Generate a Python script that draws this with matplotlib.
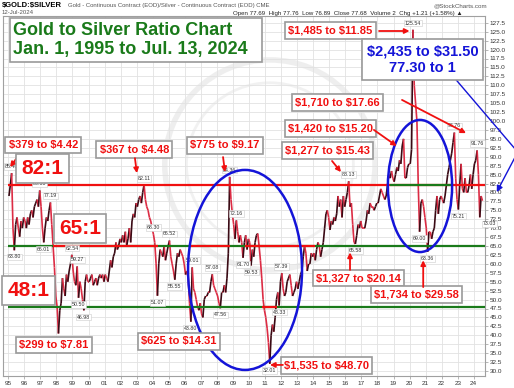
import numpy as np
import matplotlib
matplotlib.use('Agg')
import matplotlib.pyplot as plt
from matplotlib.collections import LineCollection
from matplotlib.patches import Ellipse, Rectangle

plt.rcParams['font.family'] = ['Liberation Sans', 'DejaVu Sans']
plt.rcParams['text.parse_math'] = False

# monthly gold / silver ratio (Jan .. Dec)
r1995 = [79, 82, 85.40, 70, 63.80, 71, 73, 70, 67.6, 72, 70, 73]
r1996 = [72, 70, 73, 71, 74, 75, 73, 76, 77, 78, 76, 80.55]
r1997 = [76, 70, 66.01, 70, 73, 72, 75, 77.19, 71, 65, 59, 51]
r1998 = [48, 40.5, 47, 49, 56, 53, 51, 57, 55, 58, 60, 62.54]
r1999 = [58, 55, 54, 59.27, 50.50, 55, 53, 50, 46.98, 55, 57, 55]
r2000 = [55, 56, 57, 54, 55, 56, 54, 56, 57, 56, 57, 55]
r2001 = [57, 56, 55, 58, 61, 59, 62, 63, 66, 64, 65, 67]
r2002 = [66, 68, 66, 69, 65, 67, 70, 66, 72, 74, 73, 77]
r2003 = [76, 78, 79, 77, 80, 82.11, 78, 76, 75, 73, 72, 70]
r2004 = [68.30, 66, 60, 51.07, 60, 64, 63, 62, 65, 61, 63, 65]
r2005 = [66.52, 62, 60, 58, 55.55, 60, 63, 62, 64, 63, 62, 60]
r2006 = [57, 58, 56, 49, 43.80, 59.01, 53, 52, 50, 48, 47, 49]
r2007 = [46, 45, 50, 51, 51, 52, 52, 55, 57.08, 54, 53, 52]
r2008 = [51, 49, 47.56, 52, 52, 54, 52, 56, 63, 84.36, 78, 74]
r2009 = [71, 67, 72.16, 69, 66, 68, 66, 61.70, 66, 68, 64, 67]
r2010 = [66, 59.53, 64, 62, 66, 68, 68.5, 65, 61, 56, 50, 47]
r2011 = [45, 42, 38, 32.01, 40, 43, 41, 45, 50, 52, 48.33, 55]
r2012 = [57.39, 53, 51, 52, 55, 56, 57, 54, 51, 52, 53, 55]
r2013 = [53, 55, 57, 58, 62, 65, 63, 58, 60, 60, 63, 62]
r2014 = [63, 61, 64, 66, 65, 62, 64, 66, 70, 74, 75, 73]
r2015 = [69.5, 72, 71, 73, 72, 74, 79, 76, 78, 73, 79, 76]
r2016 = [78, 80, 83.13, 76, 77, 71, 66, 65.58, 68, 71, 70, 72]
r2017 = [70, 70, 70, 72, 75, 74, 77, 76, 76, 75, 76, 77]
r2018 = [77, 79, 81, 80, 79, 78, 79, 82, 85, 84, 86, 84]
r2019 = [83, 85, 87, 86, 89, 88, 93, 95, 84, 84, 87, 88]
r2020 = [88, 92, 125.54, 110, 105, 100, 82, 69.00, 77, 78, 76, 73]
r2021 = [70, 63.36, 69, 69, 67, 69, 70, 75, 79, 74, 78, 79]
r2022 = [78, 77, 79, 82, 85, 87, 89, 91, 94, 96.76, 84, 78]
r2023 = [75.21, 82, 88, 81, 80, 84, 80, 80, 82, 85, 81, 85]
r2024 = [88, 89, 91.76, 85, 73.03, 79, 77.68]

yearly = [r1995, r1996, r1997, r1998, r1999, r2000, r2001, r2002, r2003, r2004,
          r2005, r2006, r2007, r2008, r2009, r2010, r2011, r2012, r2013, r2014,
          r2015, r2016, r2017, r2018, r2019, r2020, r2021, r2022, r2023, r2024]

# high / low tags (date, value, above?)
tag_dates = [1995.21, 1995.375, 1996.96, 1997.21, 1997.625, 1998.96, 1999.29, 1999.375,
             1999.71, 2003.46, 2004.04, 2004.29, 2005.04, 2005.375, 2006.375, 2006.46,
             2007.71, 2008.21, 2008.79, 2009.21, 2009.625, 2010.125, 2011.29, 2011.875,
             2012.04, 2016.21, 2016.625, 2020.21, 2020.625, 2021.125, 2022.79, 2023.04,
             2024.21, 2025.0]
tag_values = [85.40, 63.80, 80.55, 66.01, 77.19, 62.54, 59.27, 50.50, 46.98, 82.11, 68.30,
              51.07, 66.52, 55.55, 43.80, 59.01, 57.08, 47.56, 84.36, 72.16, 61.70, 59.53,
              32.01, 48.33, 57.39, 83.13, 65.58, 125.54, 69.00, 63.36, 96.76, 75.21, 91.76,
              73.03]
tag_above = [1, 0, 1, 0, 1, 1, 1, 0, 0, 1, 1, 0, 1, 0, 0, 1, 1, 0, 1, 1, 0, 0, 0, 0, 1,
             1, 0, 1, 0, 0, 1, 0, 1, 0]

years = list(range(1995, 2025))
RED = '#f01010'
GREEN = '#1a7a1a'
BLUE = '#1414d8'

fig = plt.figure(figsize=(5.14, 3.88), dpi=100)
ax = fig.add_axes([3 / 514, 12 / 388, 482 / 514, 360 / 388])
ax.set_xlim(1994.67, 2024.70)
ax.set_ylim(28.6, 129.4)

# grid + axes
ax.set_xticks(years)
ax.set_xticklabels([f'{y % 100:02d}' for y in years], fontsize=4.6, color='#333333')
yt = np.arange(30, 128, 2.5)
ax.yaxis.tick_right()
ax.set_yticks(yt)
ax.set_yticklabels([f'{v:.1f}' for v in yt], fontsize=4.6, color='#333333')
ax.tick_params(length=2, width=0.5, color='#999999', pad=1.5)
ax.grid(color='#e2e2e2', lw=0.6)
ax.set_axisbelow(True)
for s in ax.spines.values():
    s.set_color('#a0a0a0')
    s.set_linewidth(0.8)

# faint watermark
ax.add_patch(Ellipse((2011.3, 87.7), 13.1, 58.8, fill=False, ec='#d0d0d0', lw=4, alpha=0.35, zorder=0.5))
ax.add_patch(Ellipse((2011.3, 87.7), 10.4, 46.0, fill=False, ec='#d8d8d8', lw=2, alpha=0.35, zorder=0.5))

# ratio series
vals = np.concatenate([np.array(v, dtype=float) for v in yearly])
dates = np.concatenate([[y + (m + 0.5) / 12 for m in range(len(v))] for y, v in zip(years, yearly)])
pts = np.column_stack([dates, vals])
segs = np.stack([pts[:-1], pts[1:]], axis=1)
cols = ['#3a0a14' if b > a else '#dc2c44' for a, b in zip(vals[:-1], vals[1:])]
ax.add_collection(LineCollection(segs, colors=cols, linewidths=1.2, zorder=3))

# ratio levels
ax.hlines(82, 1995.0, 2024.7, color=RED, lw=1.6, zorder=4)
ax.hlines(82, 2018.8, 2022.6, color=GREEN, lw=1.6, zorder=4)
ax.hlines(65, 1995.0, 2024.7, color=GREEN, lw=1.6, zorder=4)
for a, b in [(1997.8, 2004.3), (2006.3, 2008.8), (2009.75, 2014.1)]:
    ax.hlines(65, a, b, color=RED, lw=1.6, zorder=4)
ax.hlines(48, 1995.0, 2024.7, color=GREEN, lw=1.6, zorder=4)
ax.hlines(48, 2010.8, 2011.75, color=RED, lw=1.6, zorder=4)

# high/low tags
for d, v, up in zip(tag_dates, tag_values, tag_above):
    ax.annotate(f'{v:.2f}', (d, v), xytext=(0, 3 if up else -3), textcoords='offset points',
                ha='center', va='bottom' if up else 'top', fontsize=3.8, color='#333333',
                bbox=dict(boxstyle='square,pad=0.15', fc='white', ec='#cccccc', lw=0.4),
                zorder=5, annotation_clip=False)

# blue ellipses
ax.add_patch(Ellipse((2009.75, 58.3), 7.1, 56, fill=False, ec=BLUE, lw=1.8, zorder=6))
ax.add_patch(Ellipse((2020.65, 81.8), 4.0, 37, fill=False, ec=BLUE, lw=1.8, zorder=6))

box = dict(boxstyle='square,pad=0.3', fc='white', ec='#9a9a9a', lw=1.2)
big = dict(boxstyle='square,pad=0.25', fc='white', ec='#9a9a9a', lw=1.2)
arrow = dict(arrowstyle='-|>', color=RED, lw=1.3, mutation_scale=7, shrinkA=0, shrinkB=0)


def tag(x, y, s, size=8, props=box):
    ax.text(x, y, s, ha='center', va='center', color=RED, fontsize=size,
            fontweight='bold', bbox=props, zorder=7)


def arr(tail, tip):
    ax.annotate('', xy=tip, xytext=tail, arrowprops=arrow, zorder=7)


tag(1997.19, 93.3, '$379 to $4.42')
arr((1995.67, 90.5), (1995.11, 87.1))
tag(1997.13, 86.7, '82:1', 15, big)
tag(1999.47, 69.9, '65:1', 15, big)
tag(1996.26, 52.5, '48:1', 15, big)
tag(2002.86, 92.0, '$367 to $4.48')
arr((2002.89, 89.6), (2003.01, 85.4))
tag(2008.5, 93.2, '$775 to $9.17')
arr((2008.38, 89.9), (2008.5, 85.7))
tag(1997.82, 37.3, '$299 to $7.81')
tag(2005.64, 38.3, '$625 to $14.31')
tag(2014.83, 31.5, '$1,535 to $48.70')
arr((2012.11, 31.7), (2011.3, 31.7))
tag(2016.82, 56.0, '$1,327 to $20.14')
arr((2016.29, 58.3), (2016.29, 63.2))
tag(2020.43, 51.4, '$1,734 to $29.58')
arr((2020.85, 53.5), (2020.85, 61.0))
tag(2014.89, 91.8, '$1,277 to $15.43')
arr((2015.17, 88.8), (2015.73, 85.7))
tag(2015.07, 97.9, '$1,420 to $15.20')
arr((2017.78, 97.5), (2019.2, 93.0))
tag(2015.5, 105.2, '$1,710 to $17.66')
arr((2019.53, 105.9), (2023.52, 96.6))
tag(2015.07, 125.3, '$1,485 to $11.85')
arr((2018.1, 125.2), (2020.0, 125.2))

# blue call-out
ax.plot([2022.81, 2026.74], [112.0, 91.3], color=BLUE, lw=1.0, clip_on=False, zorder=7)
ax.annotate('', xy=(2025.43, 80.1), xytext=(2026.74, 91.3), annotation_clip=False, zorder=7,
            arrowprops=dict(arrowstyle='-|>', color=BLUE, lw=1.0, mutation_scale=9,
                            shrinkA=0, shrinkB=0))
ax.text(2020.81, 117.1, '$2,435 to $31.50\n77.30 to 1', ha='center', va='center', color=BLUE,
        fontsize=10.5, fontweight='bold', linespacing=1.25, zorder=8,
        bbox=dict(boxstyle='square,pad=0.35', fc='white', ec='#9a9a9a', lw=1.2))

# title box
fig.patches.append(Rectangle((10 / 514, 1 - 62 / 388), 252 / 514, 44 / 388, transform=fig.transFigure,
                             fc='white', ec='#9a9a9a', lw=1.2, zorder=9))
fig.text(13 / 514, 1 - 40 / 388, 'Gold to Silver Ratio Chart\nJan. 1, 1995 to Jul. 13, 2024',
         ha='left', va='center', color=GREEN, fontsize=13, fontweight='bold', linespacing=1.1, zorder=10)

# header
fig.text(2 / 514, 1 - 6 / 388, '$GOLD:$SILVER', fontsize=5.5, fontweight='bold', va='center')
fig.text(68 / 514, 1 - 6 / 388, 'Gold - Continuous Contract (EOD)/Silver - Continuous Contract (EOD) CME',
         fontsize=4.3, color='#555555', va='center')
fig.text(2 / 514, 1 - 13 / 388, '12-Jul-2024', fontsize=4.3, color='#555555', va='center')
fig.text(233 / 514, 1 - 13 / 388,
         'Open 77.69  High 77.76  Low 76.89  Close 77.68  Volume 2  Chg +1.21 (+1.58%) \u25b2',
         fontsize=4.4, color='#222222', va='center')
fig.text(487 / 514, 1 - 6 / 388, '@StockCharts.com', fontsize=4.5, color='#555555', va='center', ha='right')

fig.savefig('out.png', dpi=100)
